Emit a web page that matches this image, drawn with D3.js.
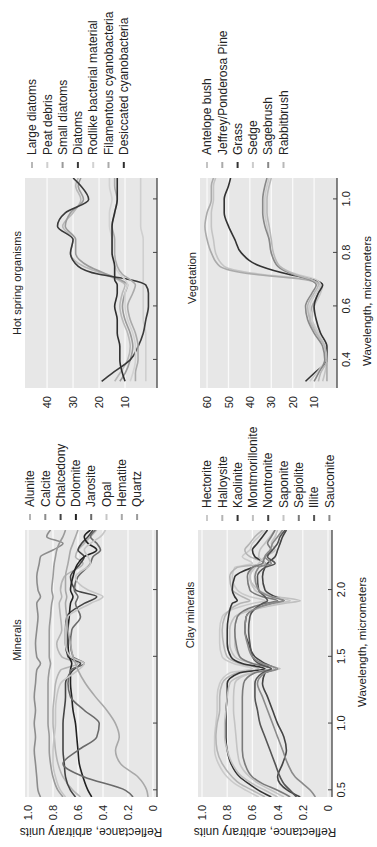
<!DOCTYPE html>
<html>
<head>
<meta charset="utf-8">
<script src="https://cdn.jsdelivr.net/npm/d3@7"></script>
<style>
body { margin: 0; background: #fff; }
text { font-family: "Liberation Sans", Arial, sans-serif; fill: #222; }
</style>
</head>
<body>
<div id="container"></div>
<script>
// ---- data ----
var mineralNames = ["Alunite", "Calcite", "Chalcedony", "Dolomite", "Jarosite", "Opal", "Hematite", "Quartz"];
var mineralWl = [0.45,0.5,0.6,0.7,0.8,0.9,1.0,1.1,1.2,1.3,1.4,1.45,1.5,1.6,1.7,1.8,1.9,1.95,2.0,2.1,2.2,2.25,2.3,2.35,2.4,2.45];
var alunite    = [0.58,0.64,0.72,0.76,0.78,0.79,0.8,0.8,0.79,0.78,0.74,0.6,0.73,0.77,0.73,0.74,0.75,0.73,0.74,0.71,0.56,0.62,0.6,0.55,0.5,0.45];
var calcite    = [0.9,0.92,0.93,0.94,0.95,0.94,0.95,0.94,0.95,0.94,0.93,0.9,0.93,0.94,0.93,0.92,0.93,0.9,0.92,0.93,0.91,0.9,0.8,0.72,0.85,0.82];
var chalcedony = [0.62,0.66,0.7,0.71,0.72,0.72,0.72,0.71,0.7,0.7,0.64,0.58,0.68,0.7,0.7,0.69,0.55,0.45,0.62,0.66,0.58,0.55,0.6,0.57,0.52,0.48];
var dolomite   = [0.49,0.52,0.56,0.59,0.6,0.61,0.62,0.64,0.65,0.66,0.66,0.65,0.67,0.68,0.68,0.67,0.66,0.64,0.66,0.64,0.6,0.55,0.45,0.52,0.55,0.5];
var jarosite   = [0.16,0.22,0.55,0.72,0.6,0.45,0.43,0.55,0.66,0.68,0.66,0.55,0.64,0.66,0.65,0.58,0.62,0.6,0.63,0.6,0.5,0.48,0.42,0.45,0.5,0.46];
var opal       = [0.7,0.74,0.78,0.8,0.8,0.79,0.78,0.78,0.77,0.74,0.6,0.55,0.66,0.7,0.7,0.68,0.5,0.4,0.52,0.62,0.5,0.52,0.55,0.5,0.42,0.38];
var hematite   = [0.04,0.05,0.12,0.26,0.3,0.27,0.3,0.37,0.46,0.54,0.6,0.62,0.64,0.66,0.68,0.69,0.7,0.69,0.7,0.7,0.68,0.67,0.66,0.64,0.62,0.6];
var quartz     = [0.72,0.76,0.8,0.82,0.83,0.83,0.84,0.84,0.84,0.84,0.83,0.82,0.83,0.83,0.83,0.82,0.81,0.8,0.81,0.8,0.79,0.78,0.77,0.75,0.72,0.7];

var clayNames = ["Hectorite", "Halloysite", "Kaolinite", "Montmorillonite", "Nontronite", "Saponite", "Sepiolite", "Illite", "Sauconite"];
var clayWl = [0.45,0.5,0.55,0.6,0.7,0.8,0.9,1.0,1.1,1.2,1.3,1.38,1.41,1.45,1.5,1.6,1.7,1.8,1.9,1.92,1.95,2.0,2.1,2.17,2.2,2.25,2.3,2.35,2.4,2.45];
var hectorite       = [0.55,0.65,0.74,0.8,0.87,0.9,0.9,0.89,0.88,0.88,0.86,0.78,0.6,0.75,0.84,0.86,0.86,0.84,0.6,0.5,0.62,0.72,0.76,0.74,0.6,0.68,0.62,0.6,0.55,0.5];
var halloysite      = [0.5,0.6,0.7,0.76,0.84,0.88,0.89,0.88,0.86,0.86,0.84,0.72,0.55,0.7,0.8,0.83,0.84,0.82,0.7,0.62,0.68,0.76,0.78,0.72,0.5,0.62,0.66,0.62,0.58,0.52];
var kaolinite       = [0.45,0.55,0.63,0.7,0.77,0.8,0.81,0.81,0.81,0.8,0.8,0.7,0.5,0.68,0.77,0.8,0.8,0.79,0.76,0.72,0.74,0.76,0.74,0.6,0.5,0.58,0.6,0.56,0.52,0.48];
var montmorillonite = [0.4,0.5,0.6,0.68,0.76,0.8,0.82,0.82,0.81,0.8,0.78,0.6,0.38,0.6,0.74,0.78,0.78,0.74,0.35,0.22,0.4,0.55,0.62,0.6,0.5,0.55,0.54,0.5,0.46,0.42];
var nontronite      = [0.22,0.32,0.38,0.4,0.36,0.33,0.35,0.4,0.44,0.48,0.52,0.5,0.42,0.5,0.58,0.63,0.66,0.65,0.45,0.35,0.42,0.5,0.52,0.5,0.48,0.42,0.4,0.38,0.36,0.33];
var saponite        = [0.35,0.45,0.55,0.62,0.7,0.72,0.73,0.74,0.75,0.75,0.74,0.6,0.42,0.6,0.7,0.74,0.74,0.72,0.4,0.3,0.45,0.58,0.62,0.58,0.55,0.5,0.42,0.45,0.42,0.4];
var sepiolite       = [0.3,0.4,0.52,0.6,0.66,0.68,0.68,0.68,0.68,0.68,0.67,0.58,0.45,0.6,0.7,0.73,0.74,0.72,0.5,0.4,0.52,0.62,0.64,0.6,0.52,0.5,0.45,0.48,0.45,0.42];
var illite          = [0.25,0.3,0.35,0.38,0.42,0.46,0.5,0.54,0.56,0.58,0.58,0.52,0.45,0.55,0.6,0.62,0.63,0.62,0.52,0.48,0.5,0.55,0.56,0.5,0.42,0.48,0.44,0.4,0.38,0.34];
var sauconite       = [0.1,0.14,0.2,0.26,0.32,0.36,0.4,0.44,0.48,0.52,0.56,0.5,0.4,0.52,0.6,0.64,0.66,0.65,0.45,0.35,0.45,0.55,0.58,0.55,0.45,0.5,0.46,0.44,0.4,0.36];

var hotNames = ["Large diatoms", "Peat debris", "Small diatoms", "Diatoms", "Rodlike bacterial material", "Filamentous cyanobacteria", "Desiccated cyanobacteria"];
var hotWl = [0.32,0.35,0.4,0.45,0.5,0.55,0.6,0.65,0.68,0.7,0.72,0.75,0.8,0.85,0.9,0.95,1.0,1.05,1.08];
var largeDiatoms  = [14,12,9,8,9,11,12,11,10,13,18,26,31,30,34,30,27,29,28];
var peatDebris    = [2,2,2,2,2,3,3,3,3,3,3,3,3,3,4,4,4,4,4];
var smallDiatoms  = [12,10,8,7,8,10,11,10,9,12,17,24,29,29,33,31,26,28,27];
var diatoms       = [19,15,8,5,3,2,1,1,2,8,20,28,31,30,36,33,24,27,30];
var rodlike       = [8,7,6,6,7,9,10,10,9,10,12,14,15,15,16,16,15,16,16];
var filamentous   = [6,6,5,5,6,8,9,7,6,8,11,13,14,14,15,14,13,14,14];
var desiccated    = [10,11,12,12,13,13,14,13,13,14,14,14,15,15,15,14,13,13,13];

var vegNames = ["Antelope bush", "Jeffrey/Ponderosa Pine", "Grass", "Sedge", "Sagebrush", "Rabbitbrush"];
var vegWl = [0.32,0.35,0.4,0.45,0.5,0.55,0.6,0.65,0.68,0.7,0.72,0.75,0.8,0.85,0.9,0.95,1.0,1.05,1.08];
var antelopeBush = [6,5,4,5,8,11,10,7,6,12,35,52,56,57,58,58,57,57,56];
var jeffreyPine  = [4,4,4,5,9,12,11,8,7,14,38,54,58,60,61,60,58,58,57];
var grass        = [14,10,4,4,7,9,10,8,6,10,22,35,44,47,50,52,52,50,49];
var sedge        = [12,9,5,5,8,11,12,9,7,9,18,26,30,31,32,33,33,32,31];
var sagebrush    = [10,8,5,6,10,13,14,11,9,12,20,27,30,31,33,34,34,33,32];
var rabbitbrush  = [8,7,4,5,9,12,13,10,8,11,19,26,29,30,31,32,32,31,30];

var reflTicks = [0, 0.2, 0.4, 0.6, 0.8, 1.0];
var hotTicks = [10, 20, 30, 40];
var vegTicks = [10, 20, 30, 40, 50, 60];
var longWlTicks = [0.5, 1.0, 1.5, 2.0];
var shortWlTicks = [0.4, 0.6, 0.8, 1.0];

// ---- layout (drawn in the landscape frame, then turned) ----
var W = 847, H = 377;

var panels = [
  { title: "Minerals", titleX: 207, box: [50, 317, 25, 157], wl: mineralWl, xDomain: [0.45, 2.45], xTicks: longWlTicks, xLabels: false,
    yDomain: [-0.032, 1.024], yTicks: reflTicks, yTitle: true, names: mineralNames,
    series: [alunite, calcite, chalcedony, dolomite, jarosite, opal, hematite, quartz],
    colors: ["#b4b4b4", "#8c8c8c", "#444", "#222", "#6a6a6a", "#c6c6c6", "#a8a8a8", "#9a9a9a"],
    legend: [330, 30] },
  { title: "Hot spring organisms", titleX: 564, box: [459, 669, 25, 157], wl: hotWl, xDomain: [0.295, 1.08], xTicks: shortWlTicks, xLabels: false,
    yDomain: [-2.3, 48.5], yTicks: hotTicks, yTitle: false, names: hotNames,
    series: [largeDiatoms, peatDebris, smallDiatoms, diatoms, rodlike, filamentous, desiccated],
    colors: ["#b8b8b8", "#cfcfcf", "#9a9a9a", "#3a3a3a", "#d2d2d2", "#aaaaaa", "#2e2e2e"],
    legend: [682, 32] },
  { title: "Clay minerals", titleX: 232, box: [50, 317, 198, 332], wl: clayWl, xDomain: [0.45, 2.45], xTicks: longWlTicks, xLabels: true,
    xTitleX: 205,
    yDomain: [-0.032, 1.032], yTicks: reflTicks, yTitle: true, names: clayNames,
    series: [hectorite, halloysite, kaolinite, montmorillonite, nontronite, saponite, sepiolite, illite, sauconite],
    colors: ["#cacaca", "#b4b4b4", "#333", "#c0c0c0", "#444", "#c4c4c4", "#7a7a7a", "#555", "#8a8a8a"],
    legend: [329, 207] },
  { title: "Vegetation", titleX: 569, box: [459, 669, 200, 337], wl: vegWl, xDomain: [0.295, 1.08], xTicks: shortWlTicks, xLabels: true,
    xTitleX: 546,
    yDomain: [-0.7, 63.3], yTicks: vegTicks, yTitle: false, names: vegNames,
    series: [antelopeBush, jeffreyPine, grass, sedge, sagebrush, rabbitbrush],
    colors: ["#c4c4c4", "#aaaaaa", "#333", "#cccccc", "#888", "#b8b8b8"],
    legend: [682, 207] }
];

var svg = d3.select("#container").append("svg")
    .attr("width", H)
    .attr("height", W);

var root = svg.append("g")
    .attr("transform", "translate(0," + W + ") rotate(-90)");

function fmt(d) { return d === 0 ? "0" : (d >= 10 ? String(d) : d.toFixed(1)); }

panels.forEach(function(p, i) {
  var x0 = p.box[0], x1 = p.box[1], y0 = p.box[2], y1 = p.box[3];
  var x = d3.scaleLinear().domain(p.xDomain).range([x0, x1]);
  var y = d3.scaleLinear().domain(p.yDomain).range([y1, y0]);
  var g = root.append("g");

  g.append("rect")
      .attr("x", x0).attr("y", y0)
      .attr("width", x1 - x0).attr("height", y1 - y0)
      .attr("fill", "#e7e7e7");

  g.selectAll(".grid")
      .data(p.yTicks)
    .enter().append("line")
      .attr("x1", x0).attr("x2", x1)
      .attr("y1", function(d) { return y(d); })
      .attr("y2", function(d) { return y(d); })
      .attr("stroke", "#fafafa")
      .attr("stroke-width", 1.3);

  g.append("clipPath").attr("id", "clip" + i)
    .append("rect")
      .attr("x", x0).attr("y", y0)
      .attr("width", x1 - x0).attr("height", y1 - y0);

  var line = d3.line()
      .x(function(d, j) { return x(p.wl[j]); })
      .y(function(d) { return y(d); })
      .curve(d3.curveMonotoneX);

  g.append("g")
      .attr("clip-path", "url(#clip" + i + ")")
    .selectAll("path")
      .data(p.series)
    .enter().append("path")
      .attr("d", line)
      .attr("fill", "none")
      .attr("stroke", function(d, j) { return p.colors[j]; })
      .attr("stroke-width", 1.6);

  // x axis, ticks point into the panel
  var xa = g.append("g")
      .attr("transform", "translate(0," + y1 + ")")
      .call(d3.axisBottom(x).tickValues(p.xTicks).tickSize(-4).tickPadding(5)
        .tickFormat(p.xLabels ? d3.format(".1f") : ""));
  xa.select(".domain").attr("stroke", "#444").attr("stroke-width", 1.3).attr("d", "M" + x0 + ",0H" + x1);
  xa.selectAll(".tick line").attr("stroke", "#444");
  xa.selectAll("text").attr("font-size", 11).attr("fill", "#333");

  // y labels
  var ya = g.append("g")
      .attr("transform", "translate(" + x0 + ",0)")
      .call(d3.axisLeft(y).tickValues(p.yTicks).tickSize(0).tickPadding(8).tickFormat(fmt));
  ya.select(".domain").remove();
  ya.selectAll("text").attr("font-size", 11).attr("fill", "#333");

  g.append("text")
      .attr("x", p.titleX)
      .attr("y", y0 - 4)
      .attr("text-anchor", "middle")
      .attr("font-size", 11)
      .text(p.title);

  if (p.xLabels) {
    g.append("text")
        .attr("x", p.xTitleX)
        .attr("y", y1 + 34)
        .attr("text-anchor", "middle")
        .attr("font-size", 11.5)
        .text("Wavelength, micrometers");
  }

  if (p.yTitle) {
    g.append("text")
        .attr("transform", "translate(19," + (y0 + y1) / 2 + ") rotate(-90)")
        .attr("text-anchor", "middle")
        .attr("font-size", 12)
        .text("Reflectance, arbitrary units");
  }

  // legend
  var lg = g.selectAll(".key")
      .data(p.names)
    .enter().append("g")
      .attr("transform", function(d, j) { return "translate(" + p.legend[0] + "," + (p.legend[1] + j * 15.3) + ")"; });
  lg.append("line")
      .attr("x1", -3).attr("x2", 3)
      .attr("stroke", function(d, j) { return p.colors[j]; })
      .attr("stroke-width", 2);
  lg.append("text")
      .attr("x", 10)
      .attr("dy", "0.35em")
      .attr("font-size", 12)
      .text(function(d) { return d; });
});
</script>
</body>
</html>
